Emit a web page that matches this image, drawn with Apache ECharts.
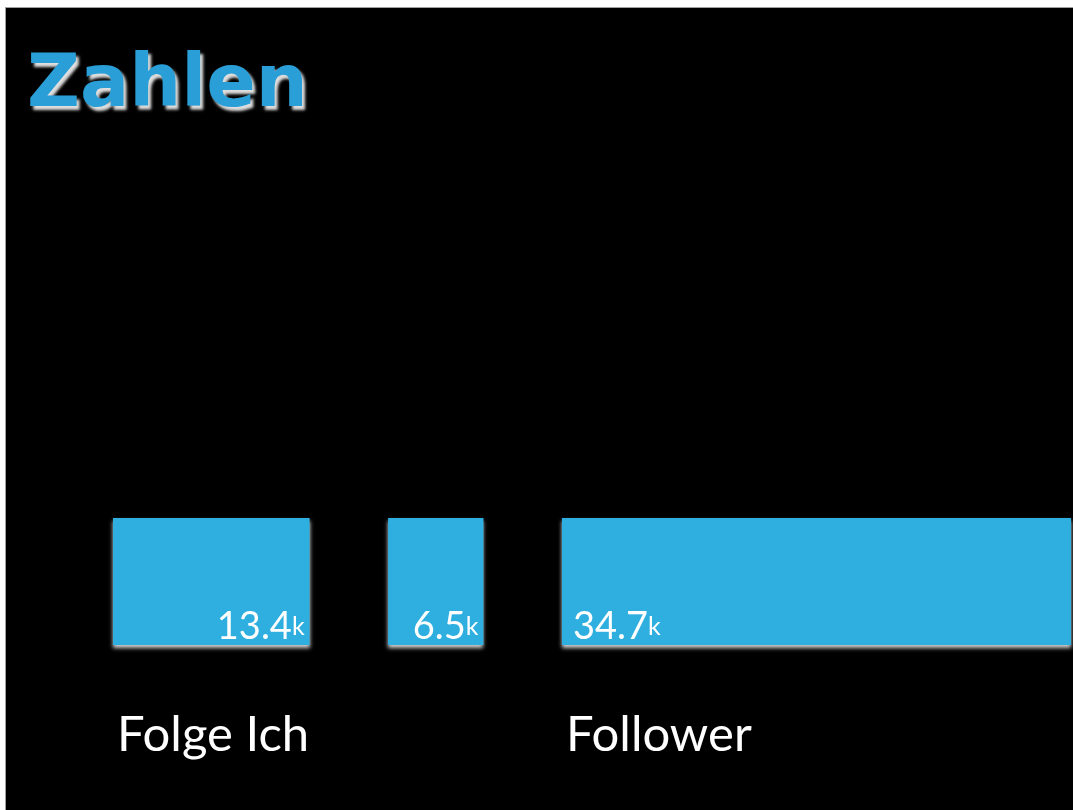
<!DOCTYPE html>
<html><head><meta charset="utf-8">
<script src="https://cdn.jsdelivr.net/npm/echarts@6/dist/echarts.min.js"></script>
<style>
html,body{margin:0;padding:0;background:#fff;width:1073px;height:810px;overflow:hidden}
#frame{position:absolute;left:5px;top:7px;width:1068px;height:803px;border-left:1px solid #a0a0a0;border-top:1px solid #a0a0a0;background:#000}
#chart{width:1068px;height:803px}
</style></head><body><div id="frame"><div id="chart"></div></div>
<script>
// ---- data ----
const titleText = 'Zahlen';
const categories = ['Folge Ich', '', 'Follower'];
const values = [13.4, 6.5, 34.7];
const unitSuffix = 'k';

// ---- layout / style settings ----
const GAP = 5.35;                              // spacing between bars, in value units
const valueLabelAlign = ['right', 'right', 'left'];
const BAR_COLOR = '#2EAFDF';

const starts = [];
let acc = 0;
values.forEach(function (v, i) { starts.push(acc); acc += v + GAP; });
const seriesData = values.map(function (v, i) { return [starts[i], v, i]; });

const chart = echarts.init(document.getElementById('chart'), null, { renderer: 'canvas' });
chart.setOption({
  backgroundColor: '#000',
  animation: false,
  title: {
    text: titleText,
    left: 16, top: 38,
    textStyle: {
      color: '#2A9ED6', fontFamily: 'DejaVu Sans', fontWeight: 'bold', fontSize: 73,
      textShadowColor: 'rgba(235,235,235,0.95)', textShadowBlur: 3,
      textShadowOffsetX: 3, textShadowOffsetY: 4
    }
  },
  grid: { left: 107, right: 0, top: 510, height: 127 },
  xAxis: { type: 'value', min: 0, max: 65.5, show: false },
  yAxis: { type: 'value', min: 0, max: 1, show: false },
  series: [{
    type: 'custom',
    data: seriesData,
    encode: { x: [0, 1] },
    clip: false,
    renderItem: function (params, api) {
      const start = api.value(0), v = api.value(1), idx = api.value(2);
      const tl = api.coord([start, 1]);
      const br = api.coord([start + v, 0]);
      const w = br[0] - tl[0], h = br[1] - tl[1];
      const align = valueLabelAlign[idx];
      const lx = align === 'right' ? br[0] - 5 : tl[0] + 11;
      const numTxt = values[idx].toFixed(1);
      return {
        type: 'group',
        children: [
          {
            type: 'rect',
            shape: { x: tl[0], y: tl[1], width: w, height: h },
            style: {
              fill: BAR_COLOR,
              shadowColor: 'rgba(235,235,235,0.9)', shadowBlur: 4,
              shadowOffsetX: 0, shadowOffsetY: 3
            }
          },
          {
            type: 'text',
            x: lx, y: br[1] + 1,
            style: {
              text: '{a|' + numTxt + '}{b|' + unitSuffix + '}',
              align: align, verticalAlign: 'bottom',
              fill: '#fff',
              rich: {
                a: { fontFamily: 'Lato', fontSize: 38, fill: '#fff' },
                b: { fontFamily: 'Lato', fontSize: 25, fill: '#fff' }
              }
            }
          },
          {
            type: 'text',
            x: tl[0] + 4, y: br[1] + 90,
            style: {
              text: categories[idx],
              fill: '#fff', fontFamily: 'Lato', fontSize: 49,
              align: 'left', verticalAlign: 'middle'
            }
          }
        ]
      };
    }
  }]
});
</script></body></html>
